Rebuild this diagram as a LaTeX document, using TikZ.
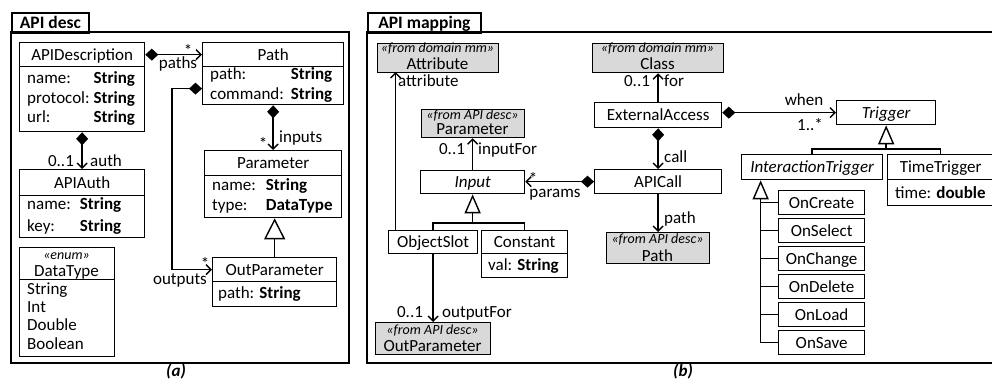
\documentclass[tikz,border=0pt]{standalone}
\usepackage{fontspec}
\setmainfont{Carlito}
\usetikzlibrary{arrows.meta}
\definecolor{boxgray}{HTML}{D9D9D9}
\newcommand\mainfs{\fontsize{17}{19.5}\selectfont}
\newcommand\sterfs{\fontsize{14}{15}\selectfont\itshape}
\newcommand\titlefs{\fontsize{17.5}{19}\selectfont\bfseries}
\newcommand\capfs{\fontsize{17}{19}\selectfont\bfseries\itshape}
\tikzset{
  umlbox/.style={draw=black, line width=1.3pt, inner sep=0pt, anchor=north west, font=\mainfs, text height=12.5pt, text depth=1.5pt},
  graybox/.style={umlbox, fill=boxgray},
  txt/.style={inner sep=0pt, font=\mainfs},
  stereo/.style={inner sep=0pt, font=\sterfs, anchor=base},
  conn/.style={line width=1.4pt},
  umlcomp/.style={conn, arrows={Diamond[length=13pt,width=12pt]-Straight Barb[length=5pt,width=10pt]}},
  umlnav/.style={conn, arrows={-Straight Barb[length=5pt,width=10pt]}},
  umlgen/.style={conn, arrows={-Triangle[open,length=19pt,width=16pt]}},
  umlgenA/.style={conn, arrows={-Triangle[open,length=21pt,width=21pt]}},
  panelframe/.style={line width=2.6pt},
  paneltab/.style={draw, line width=1.8pt, inner sep=0pt, anchor=north west, font=\titlefs, text height=12.5pt, text depth=1.5pt},
  capt/.style={inner sep=0pt, font=\capfs, anchor=base},
}
\begin{document}
\begin{tikzpicture}[x=1pt,y=-1pt]
\useasboundingbox (0,0) rectangle (992,385);
% ---------- panel (a)
\draw[panelframe] (11,32) rectangle (349,363);
\node[paneltab, minimum width=77, minimum height=20] (tabA) at (11,12) {API desc};

\node[umlbox, minimum width=125, minimum height=24] (apidH) at (19,42) {APIDescription};
\node[umlbox, minimum width=125, minimum height=65] (apidA) at (19,66) {};
\node[txt, anchor=west] (apidT) at ([xshift=8pt]apidA.west) {\begin{tabular}{@{}l@{\hspace{4pt}}l@{}}name: & \textbf{String}\\ protocol: & \textbf{String}\\ url: & \textbf{String}\end{tabular}};

\node[umlbox, minimum width=141, minimum height=24] (pathH) at (202,42) {Path};
\node[umlbox, minimum width=141, minimum height=38] (pathA) at (202,66) {};
\node[txt, anchor=west] (pathT) at ([xshift=8pt]pathA.west) {\begin{tabular}{@{}l@{\hspace{7pt}}l@{}}path: & \textbf{String}\\ command: & \textbf{String}\end{tabular}};

\node[umlbox, minimum width=125, minimum height=26] (authH) at (19,169) {APIAuth};
\node[umlbox, minimum width=125, minimum height=42] (authA) at (19,195) {};
\node[txt, anchor=west] (authT) at ([xshift=8pt]authA.west) {\begin{tabular}{@{}l@{\hspace{9pt}}l@{}}name: & \textbf{String}\\[2.5pt] key: & \textbf{String}\end{tabular}};

\node[umlbox, minimum width=95, minimum height=32] (dtH) at (19,247) {};
\node[stereo] (dtS) at (66.5,259) {«enum»};
\node[txt, anchor=base] (dtN) at (66.5,276.5) {DataType};
\node[umlbox, minimum width=95, minimum height=77] (dtA) at (19,279) {};
\node[inner sep=0pt, anchor=west, font=\fontsize{17}{18.3}\selectfont] (dtT) at ([xshift=8pt]dtA.west) {\begin{tabular}{@{}l@{}}String\\ Int\\ Double\\ Boolean\end{tabular}};

\node[umlbox, minimum width=137, minimum height=25] (parH) at (204,150) {Parameter};
\node[umlbox, minimum width=137, minimum height=42] (parA) at (204,175) {};
\node[txt, anchor=west] (parT) at ([xshift=8pt]parA.west) {\begin{tabular}{@{}l@{\hspace{10pt}}l@{}}name: & \textbf{String}\\ type: & \textbf{DataType}\end{tabular}};

\node[umlbox, minimum width=124, minimum height=24] (outH) at (212,257) {OutParameter};
\node[umlbox, minimum width=124, minimum height=25] (outA) at (212,281) {};
\node[txt, anchor=west] (outT) at ([xshift=6pt]outA.west) {path: \textbf{String}};

% connectors (a)
\draw[umlcomp] (apidH.east) -- (pathH.west);
\node[txt, anchor=base] (s1) at (188,57) {*};
\node[txt, anchor=base] (l1) at (178,68.5) {paths};

\draw[umlcomp] (apidA.south) -- (authH.north);
\node[txt, anchor=base] (m2) at (61,166.5) {0..1};
\node[txt, anchor=base west] (l2) at (90,166) {auth};

\draw[umlcomp] (pathA.south) -- (parH.north);
\node[txt, anchor=base] (s3) at (263,149) {*};
\node[txt, anchor=base west] (l3) at (279,142) {inputs};

\draw[umlcomp] ([yshift=-3pt]pathA.west) -- ++(-30,0) |- (outH.west);
\node[txt, anchor=base] (s4) at (205,269.5) {*};
\node[txt, anchor=base] (l4) at (180,284) {outputs};

\draw[umlgenA] (outH.north) -- (outH.north |- parA.south);

\node[capt] (capA) at (176,376) {(a)};

% ---------- panel (b)
\draw[panelframe] (367,32) rectangle (1000,363);
\node[paneltab, minimum width=113, minimum height=20] (tabB) at (367,12) {API mapping};

\node[graybox, minimum width=121, minimum height=29] (attr) at (377,43) {};
\node[stereo] (attrS) at (437.5,52.5) {«from domain mm»};
\node[txt, anchor=base] (attrN) at (437.5,70) {Attribute};

\node[graybox, minimum width=131, minimum height=29] (cls) at (592,43) {};
\node[stereo] (clsS) at (657.5,52.5) {«from domain mm»};
\node[txt, anchor=base] (clsN) at (657.5,70) {Class};

\node[umlbox, minimum width=127, minimum height=25] (ext) at (594,102) {ExternalAccess};
\node[umlbox, minimum width=127, minimum height=24] (apic) at (594,169) {APICall};

\node[graybox, minimum width=103, minimum height=31] (pathB) at (606,232) {};
\node[stereo] (pathBS) at (657.5,243.5) {«from API desc»};
\node[txt, anchor=base] (pathBN) at (657.5,261) {Path};

\node[graybox, minimum width=103, minimum height=28] (parB) at (421,109) {};
\node[stereo] (parBS) at (472.5,119) {«from API desc»};
\node[txt, anchor=base] (parBN) at (472.5,134) {Parameter};

\node[umlbox, minimum width=104, minimum height=23, font=\mainfs\itshape] (input) at (420,170) {Input};

\node[umlbox, minimum width=89, minimum height=23] (objs) at (388,230) {ObjectSlot};
\node[umlbox, minimum width=86, minimum height=23] (constH) at (481,230) {Constant};
\node[umlbox, minimum width=86, minimum height=24] (constA) at (481,253) {};
\node[txt, anchor=west] (constT) at ([xshift=7pt]constA.west) {val: \textbf{String}};

\node[graybox, minimum width=115, minimum height=32] (outB) at (375,322) {};
\node[stereo] (outBS) at (432.5,334) {«from API desc»};
\node[txt, anchor=base] (outBN) at (432.5,351) {OutParameter};

\node[umlbox, minimum width=99, minimum height=24, font=\mainfs\itshape] (trig) at (836,100) {Trigger};
\node[umlbox, minimum width=141, minimum height=25, font=\mainfs\itshape] (itrig) at (741,154) {InteractionTrigger};
\node[umlbox, minimum width=106, minimum height=25] (ttH) at (887,154) {TimeTrigger};
\node[umlbox, minimum width=106, minimum height=26] (ttA) at (887,179) {};
\node[txt, anchor=west] (ttT) at ([xshift=8pt]ttA.west) {time: \textbf{double}};

\node[umlbox, minimum width=86, minimum height=24] (oncreate) at (778,190) {OnCreate};
\node[umlbox, minimum width=86, minimum height=24] (onselect) at (778,218) {OnSelect};
\node[umlbox, minimum width=86, minimum height=24] (onchange) at (778,246) {OnChange};
\node[umlbox, minimum width=86, minimum height=24] (ondelete) at (778,274) {OnDelete};
\node[umlbox, minimum width=86, minimum height=24] (onload) at (778,302) {OnLoad};
\node[umlbox, minimum width=86, minimum height=24] (onsave) at (778,330) {OnSave};

% connectors (b)
\draw[umlnav] ([xshift=-37.5pt]objs.north) -- ++(0,-158);
\node[txt, anchor=base west] (l5) at (398,87) {attribute};

\draw[umlnav] (ext.north) -- (cls.south);
\node[txt, anchor=base] (m6) at (637,87) {0..1};
\node[txt, anchor=base west] (l6) at (664,87) {for};

\draw[umlcomp] (ext.south) -- (apic.north);
\node[txt, anchor=base west] (l7) at (664,162.5) {call};

\draw[umlnav] (apic.south) -- (pathB.north);
\node[txt, anchor=base west] (l8) at (664,223.5) {path};

\draw[umlnav] (input.north) -- (input.north |- parB.south);
\node[txt, anchor=base] (m9) at (452,154) {0..1};
\node[txt, anchor=base west] (l9) at (478,154) {inputFor};

\draw[umlcomp] (apic.west) -- (input.east |- apic.west);
\node[txt, anchor=base] (s10) at (533,184.5) {*};
\node[txt, anchor=base] (l10) at (555,197) {params};

\draw[umlnav] (objs.south) -- (outB.north);
\node[txt, anchor=base] (m11) at (410,317) {0..1};
\node[txt, anchor=base west] (l11) at (442,317) {outputFor};

\draw[umlcomp] (ext.east |- trig.west) -- (trig.west);
\node[txt, anchor=base] (l12) at (804,106) {when};
\node[txt, anchor=base] (m12) at (810,130) {1..*};

\draw[conn] (objs.north) -- ++(0,-7) -| (constH.north);
\draw[umlgen] (input.south) ++(0,30) -- (input.south);

\draw[conn] (itrig.north) -- ++(0,-5) -| (ttH.north);
\draw[umlgen] (trig.south) ++(0,25) -- (trig.south);

\draw[umlgen] (onsave.west) -| ([xshift=-51.5pt]itrig.south);
\draw[conn] (oncreate.west) -- ++(-18,0);
\draw[conn] (onselect.west) -- ++(-18,0);
\draw[conn] (onchange.west) -- ++(-18,0);
\draw[conn] (ondelete.west) -- ++(-18,0);
\draw[conn] (onload.west) -- ++(-18,0);

\node[capt] (capB) at (683,376) {(b)};
\end{tikzpicture}
\end{document}
